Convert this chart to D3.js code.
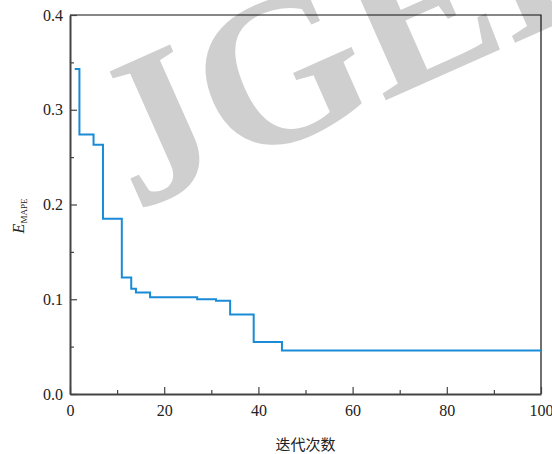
<!DOCTYPE html>
<html>
<head>
<meta charset="utf-8">
<script src="https://cdn.jsdelivr.net/npm/d3@7"></script>
<style>
  body { margin: 0; background: #fff; }
  svg { display: block; }
</style>
</head>
<body>
<div class="chart"></div>
<script>
// best fitness (MAPE) per iteration
const iterations = [1, 2, 5, 7, 11, 13, 14, 17, 27, 31, 34, 39, 45, 100];
const mapeValues = [0.343, 0.274, 0.263, 0.185, 0.123, 0.111, 0.107, 0.102, 0.100, 0.0985, 0.084, 0.055, 0.046, 0.046];
const xTicks = [0, 20, 40, 60, 80, 100];
const yTicks = [0.0, 0.1, 0.2, 0.3, 0.4];

const fullWidth = 552;
const fullHeight = 454;
const serif = 'Liberation Serif, Times New Roman, serif';
let margin = { top: 15, right: 11, bottom: 60, left: 70 };
let width = fullWidth - margin.left - margin.right;
let height = fullHeight - margin.top - margin.bottom;

let svg = d3.select('.chart')
  .append('svg')
  .attr('width', fullWidth)
  .attr('height', fullHeight);

// watermark
svg.append('text')
  .attr('transform', 'translate(135, 212) rotate(-24)')
  .attr('font-family', serif)
  .attr('font-weight', 'bold')
  .attr('font-size', 212)
  .attr('fill', '#cfcfcf')
  .text('JGEE');

let g = svg.append('g')
  .attr('transform', `translate(${margin.left}, ${margin.top})`);

let x = d3.scaleLinear().domain([0, 100]).range([0, width]);
let y = d3.scaleLinear().domain([0, 0.4]).range([height, 0]);

// top and right frame
g.append('path')
  .attr('d', `M0,0H${width}V${height}`)
  .attr('fill', 'none')
  .attr('stroke', '#111')
  .attr('stroke-width', 1.2);

// minor ticks
let xMinor = d3.axisBottom(x).tickValues([10, 30, 50, 70, 90]).tickSize(-4).tickFormat('');
let yMinor = d3.axisLeft(y).tickValues([0.05, 0.15, 0.25, 0.35]).tickSize(-4).tickFormat('');

g.append('g').attr('transform', `translate(0, ${height})`).call(xMinor)
  .call(a => a.select('.domain').remove())
  .selectAll('line').attr('stroke', '#444').attr('stroke-width', 1.2);
g.append('g').call(yMinor)
  .call(a => a.select('.domain').remove())
  .selectAll('line').attr('stroke', '#444').attr('stroke-width', 1.2);

let xAxis = d3.axisBottom(x).tickValues(xTicks).tickSize(-7).tickSizeOuter(0)
  .tickPadding(11).tickFormat(d3.format('d'));
let yAxis = d3.axisLeft(y).tickValues(yTicks).tickSize(-7).tickSizeOuter(0)
  .tickPadding(7).tickFormat(d3.format('.1f'));

let gx = g.append('g').attr('transform', `translate(0, ${height})`).call(xAxis);
let gy = g.append('g').call(yAxis);

[gx, gy].forEach(a => {
  a.attr('font-family', serif).attr('font-size', 16);
  a.select('.domain').attr('stroke', '#444').attr('stroke-width', 2);
  a.selectAll('line').attr('stroke', '#444').attr('stroke-width', 1.2);
  a.selectAll('text').attr('fill', '#222');
});

// step curve
let line = d3.line()
  .x((d, i) => x(iterations[i]))
  .y(d => y(d))
  .curve(d3.curveStepAfter);

g.append('path')
  .datum(mapeValues)
  .attr('d', line)
  .attr('fill', 'none')
  .attr('stroke', '#1a8bd6')
  .attr('stroke-width', 2);

// axis titles
svg.append('text')
  .attr('x', margin.left + width / 2)
  .attr('y', 450)
  .attr('text-anchor', 'middle')
  .attr('font-family', 'Noto Sans CJK SC, sans-serif')
  .attr('font-size', 15)
  .attr('fill', '#222')
  .text('迭代次数');

let yTitle = svg.append('text')
  .attr('transform', 'translate(24, 216) rotate(-90)')
  .attr('text-anchor', 'middle')
  .attr('font-family', serif)
  .attr('fill', '#222');
yTitle.append('tspan')
  .attr('font-style', 'italic')
  .attr('font-size', 16)
  .text('E');
yTitle.append('tspan')
  .attr('dy', 3)
  .attr('font-size', 9)
  .text('MAPE');
</script>
</body>
</html>
